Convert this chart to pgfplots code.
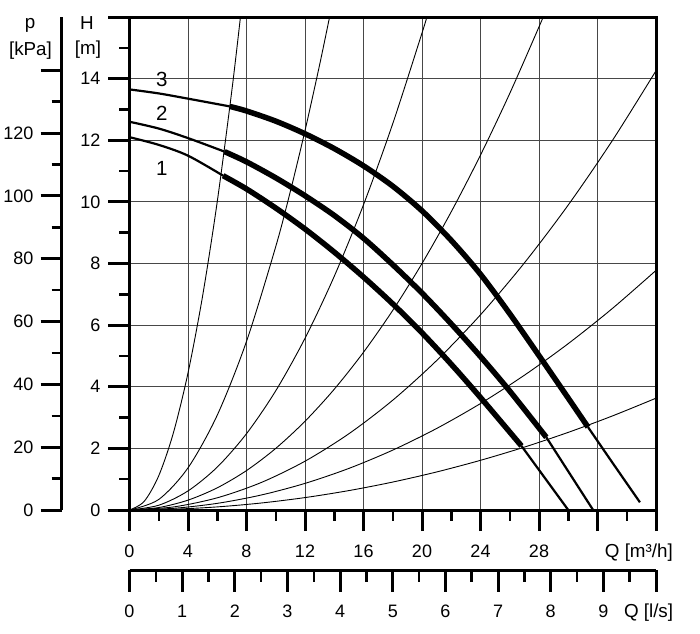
\documentclass[border=0pt]{standalone}
\usepackage{pgfplots}
\pgfplotsset{compat=1.18}
\usepackage{fontspec}
\setmainfont{Liberation Sans}
\newcommand{\lf}{\fontsize{18}{21}\selectfont}
\newcommand{\tf}{\fontsize{18.8}{22}\selectfont}
\newcommand{\cf}{\fontsize{20.5}{24}\selectfont}
\begin{document}
\begin{tikzpicture}[font=\lf]
\useasboundingbox (0,0) rectangle (700pt,633pt);

% ---------- main H-Q axis ----------
\begin{axis}[
  at={(129.5pt,123pt)}, anchor=south west,
  scale only axis, width=526.5pt, height=493pt,
  xmin=0, xmax=36, ymin=0, ymax=16,
  xtick={0,4,...,36}, xticklabels={0,4,8,12,16,20,24,28,{},{}},
  minor xtick={2,6,...,34},
  ytick={0,2,...,16}, yticklabels={0,2,4,6,8,10,12,14,{}},
  minor ytick={1,3,...,15},
  xtick pos=bottom, ytick pos=left,
  tick align=outside,
  major tick length=21pt, minor tick length=10.5pt,
  every major tick/.append style={line width=3pt,black},
  every minor tick/.append style={line width=2.5pt,black},
  axis line style={line width=3pt},
  grid=major,
  major grid style={line width=0.9pt,black!72},
  /pgf/number format/assume math mode=true,
  tick label style={font=\lf, inner sep=0pt},
  xticklabel style={anchor=base, yshift=-26pt},
  yticklabel style={anchor=east, xshift=-7.9pt},
]
% system curves H = k Q^2
\addplot[black, line width=0.9pt, smooth] coordinates {(0,0)(1,0.278)(2,1.112)(3,2.502)(4,4.448)(5,6.95)(6,10.008)(7,13.622)(7.586,16.0)};
\addplot[black, line width=0.9pt, smooth] coordinates {(0,0)(2,0.342)(4,1.368)(6,3.078)(8,5.472)(10,8.55)(11,10.346)(12,12.312)(13,14.45)(13.68,16.0)};
\addplot[black, line width=0.9pt, smooth] coordinates {(0,0)(2,0.155)(4,0.619)(6,1.393)(8,2.477)(10,3.87)(12,5.573)(14,7.585)(16,9.907)(18,12.539)(20,15.48)(20.33,16.0)};
\addplot[black, line width=0.9pt, smooth] coordinates {(0,0)(2,0.08)(4,0.32)(6,0.72)(8,1.28)(10,2.0)(12,2.88)(14,3.92)(16,5.12)(18,6.48)(20,8.0)(22,9.68)(24,11.52)(26,13.52)(28,15.68)(28.28,16.0)};
\addplot[black, line width=0.9pt, smooth] coordinates {(0,0)(3,0.099)(6,0.396)(9,0.891)(12,1.584)(15,2.475)(18,3.564)(21,4.851)(24,6.336)(27,8.019)(30,9.9)(33,11.979)(36,14.256)};
\addplot[black, line width=0.9pt, smooth] coordinates {(0,0)(3,0.054)(6,0.216)(9,0.486)(12,0.864)(15,1.35)(18,1.944)(21,2.646)(24,3.456)(27,4.374)(30,5.4)(33,6.534)(36,7.776)};
\addplot[black, line width=0.9pt, smooth] coordinates {(0,0)(3,0.0252)(6,0.1008)(9,0.2268)(12,0.4032)(15,0.63)(18,0.9072)(21,1.2348)(24,1.6128)(27,2.0412)(30,2.52)(33,3.0492)(36,3.6288)};
% pump curve 3
\addplot[black, line width=2.2pt, smooth] coordinates {(0,13.65)(2,13.52)(4,13.35)(6.84,13.10)};
\addplot[black, line width=5.5pt, line join=round, smooth] coordinates {(6.84,13.10)(8,12.95)(10,12.62)(12,12.21)(14,11.73)(16,11.17)(18,10.51)(20,9.71)(22,8.75)(24,7.65)(26,6.37)(28,5.01)(30,3.63)(31.35,2.69)};
\addplot[black, line width=2.2pt] coordinates {(31.35,2.69)(33,1.55)(34.9,0.25)};
% pump curve 2
\addplot[black, line width=2.2pt, smooth] coordinates {(0,12.6)(2,12.38)(4,12.07)(6.5,11.63)};
\addplot[black, line width=5.5pt, line join=round, smooth] coordinates {(6.5,11.63)(8,11.30)(10,10.78)(12,10.20)(14,9.56)(16,8.82)(18,7.96)(20,7.04)(22,6.04)(24,4.98)(26,3.86)(28.5,2.36)};
\addplot[black, line width=2.2pt] coordinates {(28.5,2.36)(31.7,0)};
% pump curve 1
\addplot[black, line width=2.2pt, smooth] coordinates {(0,12.1)(2,11.85)(4,11.5)(6.4,10.85)};
\addplot[black, line width=5.5pt, line join=round, smooth] coordinates {(6.4,10.85)(8,10.42)(10,9.80)(12,9.12)(14,8.37)(16,7.56)(18,6.69)(20,5.75)(22,4.73)(24,3.65)(26.8,2.08)};
\addplot[black, line width=2.2pt] coordinates {(26.8,2.08)(30,0)};
\end{axis}

% ---------- p axis (kPa) ----------
\begin{axis}[
  at={(61.7pt,123pt)}, anchor=south west,
  scale only axis, width=10pt, height=493pt,
  xmin=0, xmax=1, ymin=0, ymax=156.96,
  axis x line=none, axis y line=left,
  axis line style={-, line width=3pt},
  ytick={0,20,...,140}, yticklabels={0,20,40,60,80,100,120,{}},
  minor ytick={10,30,...,130},
  tick align=outside,
  major tick length=21pt, minor tick length=10pt,
  every major tick/.append style={line width=3pt,black},
  every minor tick/.append style={line width=2.5pt,black},
  tick label style={font=\lf, inner sep=0pt},
  yticklabel style={anchor=east, xshift=-7.1pt},
]
\addplot[draw=none] coordinates {(0,0)};
\end{axis}

% ---------- Q axis (l/s) ----------
\begin{axis}[
  at={(129.5pt,63pt)}, anchor=south west,
  scale only axis, width=526.5pt, height=10pt,
  xmin=0, xmax=10, ymin=0, ymax=1,
  axis y line=none, axis x line=bottom,
  axis line style={-, line width=3pt},
  xtick={0,1,2,3,4,5,6,7,8,9,10}, xticklabels={0,1,2,3,4,5,6,7,8,9,{}},
  minor xtick={0.5,1.5,...,9.5},
  tick align=outside,
  major tick length=21.7pt, minor tick length=11.7pt,
  every major tick/.append style={line width=3pt,black},
  every minor tick/.append style={line width=2.5pt,black},
  tick label style={font=\lf, inner sep=0pt},
  xticklabel style={anchor=base, yshift=-25.4pt},
]
\addplot[draw=none] coordinates {(0,0)};
\end{axis}

% ---------- texts ----------
\node[anchor=base east, inner sep=0pt, font=\tf] at (673pt,76pt) {Q [m³/h]};
\node[anchor=base east, inner sep=0pt, font=\tf] at (673.3pt,15.3pt) {Q [l/s]};
\node[anchor=base, inner sep=0pt, font=\tf] at (87pt,603pt) {H};
\node[anchor=base, inner sep=0pt, font=\tf] at (88pt,578.4pt) {[m]};
\node[anchor=base, inner sep=0pt, font=\tf] at (30pt,604pt) {p};
\node[anchor=base, inner sep=0pt, font=\tf] at (30.5pt,577.4pt) {[kPa]};
\node[anchor=base, inner sep=0pt, font=\cf] at (161.7pt,546.5pt) {3};
\node[anchor=base, inner sep=0pt, font=\cf] at (161.7pt,512.5pt) {2};
\node[anchor=base, inner sep=0pt, font=\cf] at (161.7pt,457pt) {1};
\end{tikzpicture}
\end{document}
